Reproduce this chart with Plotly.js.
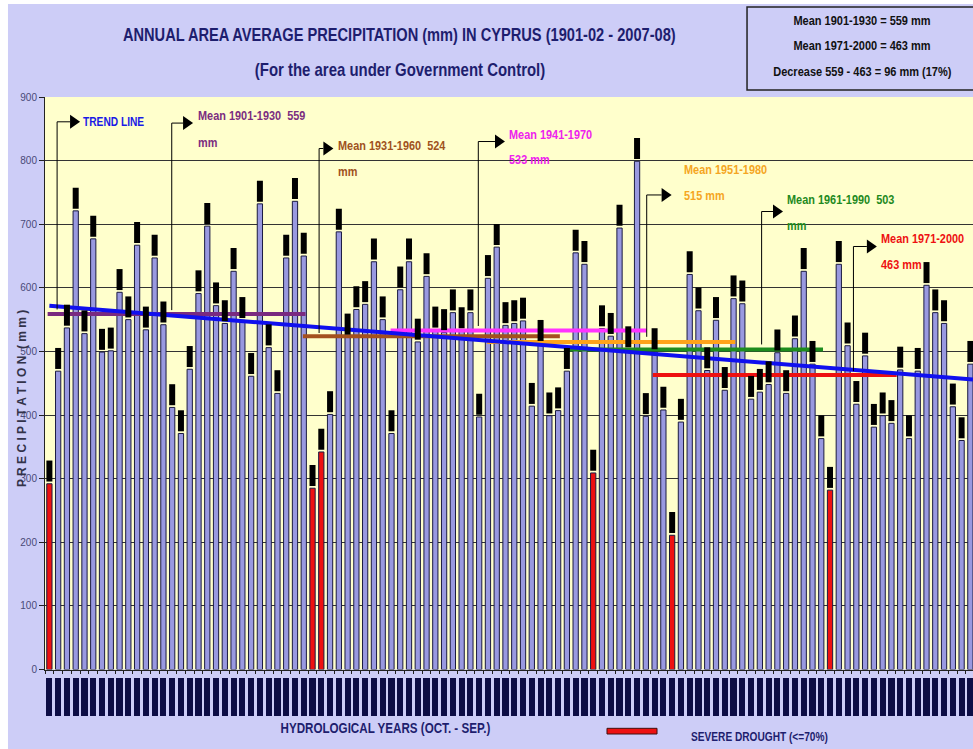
<!DOCTYPE html>
<html><head><meta charset="utf-8">
<script src="https://cdn.plot.ly/plotly-3.0.1.min.js"></script>
<style>html,body{margin:0;padding:0;background:#cdcdf7;}#chart{width:973px;height:749px;}</style>
</head><body><div id="chart"></div>
<script>
// ---- data ----
const precipitation = [
 292,469,537,721,528,677,499,501,593,550,
 667,534,647,542,412,371,472,591,697,572,
 544,626,549,461,732,506,434,647,736,650,
 285,342,401,688,523,566,574,641,550,371,
 597,641,515,618,534,530,561,533,561,397,
 615,664,541,544,548,414,513,399,407,469,
 655,637,309,536,524,694,503,799,398,500,
 408,211,389,621,564,470,549,439,583,575,
 425,436,448,498,434,520,626,480,363,282,
 637,509,417,493,381,399,387,471,363,469,
 604,561,544,413,360,480];
const droughtYears = ["1901-02","1931-32","1932-33","1963-64","1972-73","1990-91"];
const firstYear = 1901;
const years = precipitation.map((_, i) => {
  const y = firstYear + i; return y + "-" + String((y + 1) % 100).padStart(2, "0");
});
const meanLabels = ["Mean 1901-1930  559", "Mean 1931-1960  524", "Mean 1941-1970", "Mean 1951-1980", "Mean 1961-1990  503", "Mean 1971-2000"];
const meanSecond = ["mm", "mm", "533 mm", "515 mm", "mm", "463 mm"];
const meanValues = [559, 524, 533, 515, 503, 463];
const trendEnds = [572, 456];
const boxLines = ["Mean 1901-1930 = 559 mm", "Mean 1971-2000 = 463 mm", "Decrease 559 - 463 = 96 mm (17%)"];

// ---- styling / placement ----
const FONT = "Liberation Sans Narrow, Arial Narrow, Liberation Sans, sans-serif";
const meanColors = ["#7a2a80", "#a4501e", "#ff33ff", "#ffa31a", "#1e8c1e", "#ee1111"];
const meanTextColors = ["#7b2d80", "#a0521d", "#ee22ee", "#f5a623", "#1e8a1e", "#ee1111"];
const meanSpan = [[-0.2, 29.2], [28.9, 58.2], [38.9, 68.1], [49.9, 78.2], [58.8, 88.2], [68.8, 96.6]];
// pointer: [xStem, yLow, yTop, xHead, xText, yLine1, yLine2]
const pointers = [
  [13.95, 565, 859, 15.24, 16.84, 871, 828],
  [30.75, 529, 819, 31.24, 32.8, 823, 783],
  [48.9, 540, 830, 50.8, 52.3, 841, 801],
  [68.1, 523, 746, 69.8, 72.2, 786, 745],
  [81.2, 511, 720, 82.5, 83.96, 739, 698],
  [91.67, 469, 665, 93.2, 94.7, 677, 636]
];
const trendPointer = [0.88, 566, 861, 2.36, 3.73];

const idx = precipitation.map((_, i) => i);
const barColors = years.map(y => droughtYears.includes(y) ? "#ee1111" : "#9999e0");

const traces = [];
traces.push({type: "bar", x: idx, y: precipitation, width: 0.6, text: years, hoverinfo: "text+y", textposition: "none",
  marker: {color: barColors, line: {color: "#1a1a40", width: 1}}, xaxis: "x", yaxis: "y"});
meanValues.forEach((v, k) => {
  traces.push({type: "scatter", mode: "lines", x: meanSpan[k], y: [v, v], hoverinfo: "skip",
    line: {color: meanColors[k], width: 4}, xaxis: "x", yaxis: "y"});
});
traces.push({type: "scatter", mode: "lines", x: [idx[0], idx[idx.length - 1] + 0.3], y: trendEnds,
  line: {color: "#1010ee", width: 4}, hoverinfo: "skip", xaxis: "x", yaxis: "y"});
traces.push({type: "scatter", mode: "markers", x: idx, y: precipitation.map(v => v + 20), hoverinfo: "skip",
  marker: {symbol: "line-ns", size: 15, color: "#000", line: {color: "#000", width: 6}}, xaxis: "x", yaxis: "y"});
traces.push({type: "bar", x: idx, y: idx.map(() => 1), width: 0.7, hoverinfo: "skip",
  marker: {color: "#0d0d45", line: {width: 0}}, xaxis: "x2", yaxis: "y2"});

const shapes = [];
shapes.push({type: "rect", xref: "x domain", yref: "y domain", x0: 0, x1: 1, y0: 0, y1: 1,
  fillcolor: "#ffffcc", line: {width: 0}, layer: "below"});
const dx = 1 / 8.771, dy = 1 / 0.6356;
function pointer(p) {
  const [xs, yl, yt, xh] = p;
  shapes.push({type: "path", xref: "x", yref: "y", layer: "above",
    path: `M${xs},${yl} L${xs},${yt} L${xh},${yt}`, line: {color: "#000", width: 1}});
  shapes.push({type: "path", xref: "x", yref: "y", layer: "above",
    path: `M${xh},${yt + 7 * dy} L${xh + 10 * dx},${yt} L${xh},${yt - 7 * dy} Z`,
    fillcolor: "#000", line: {color: "#000", width: 0}});
}
pointers.forEach(pointer);
pointer(trendPointer);
shapes.push({type: "rect", xref: "paper", yref: "paper", x0: 0.7565, x1: 1.01, y0: 1.0113, y1: 1.1454,
  fillcolor: "rgba(0,0,0,0)", line: {color: "#222", width: 1.5}});
shapes.push({type: "rect", xref: "paper", yref: "paper", x0: 0.6056, x1: 0.6595, y0: -0.0291, y1: -0.0199,
  fillcolor: "#ee1111", line: {color: "#401010", width: 1}});
shapes.push({type: "rect", xref: "paper", yref: "paper", x0: -0.0485, x1: -0.0399, y0: -0.06, y1: 1.16,
  fillcolor: "#ffffff", line: {width: 0}, layer: "below"});
shapes.push({type: "rect", xref: "paper", yref: "paper", x0: -0.06, x1: 1.01, y0: 1.1502, y1: 1.16,
  fillcolor: "#ffffff", line: {width: 0}, layer: "below"});

const ann = [];
const squeeze = []; // horizontal condensing factor per annotation (narrow font look)
const f = (size, color) => ({family: FONT, size: size, color: color, weight: "bold"});
function add(a, k) { ann.push(Object.assign({borderpad: 0}, a)); squeeze.push(k); }
pointers.forEach((p, k) => {
  add({xref: "x", yref: "y", x: p[4], y: p[5], text: meanLabels[k], showarrow: false,
    xanchor: "left", yanchor: "middle", font: f(13, meanTextColors[k])}, 0.84);
  add({xref: "x", yref: "y", x: p[4], y: p[6], text: meanSecond[k], showarrow: false,
    xanchor: "left", yanchor: "middle", font: f(13, meanTextColors[k])}, 0.84);
});
add({xref: "x", yref: "y", x: trendPointer[4], y: trendPointer[2], text: "TREND LINE", showarrow: false,
  xanchor: "left", yanchor: "middle", font: f(12, "#1a1ae6")}, 0.85);
add({xref: "paper", yref: "paper", x: 0.3825, y: 1.1002, text: "ANNUAL AREA AVERAGE PRECIPITATION (mm) IN CYPRUS (1901-02 - 2007-08)",
  showarrow: false, xanchor: "center", yanchor: "middle", font: f(19, "#1e1e6e")}, 0.77);
add({xref: "paper", yref: "paper", x: 0.3825, y: 1.0436, text: "(For the area under Government Control)",
  showarrow: false, xanchor: "center", yanchor: "middle", font: f(18, "#1e1e6e")}, 0.83);
const boxY = [1.1228, 1.0816, 1.0404];
boxLines.forEach((t, k) => add({xref: "paper", yref: "paper", x: 0.8804, y: boxY[k], text: t,
  showarrow: false, xanchor: "center", yanchor: "middle", font: f(12.5, "#111")}, 0.88));
add({xref: "paper", yref: "paper", x: -0.0248, y: 0.5137, text: "P R E C I P I T A T I O N  ( m m )",
  textangle: -90, showarrow: false, xanchor: "center", yanchor: "middle", font: f(12, "#33334a")}, 1);
add({xref: "paper", yref: "paper", x: 0.3664, y: -0.0194, text: "HYDROLOGICAL YEARS (OCT. - SEP.)",
  showarrow: false, xanchor: "center", yanchor: "middle", font: f(14, "#1e1e6e")}, 0.83);
add({xref: "paper", yref: "paper", x: 0.695, y: -0.0334, text: "SEVERE DROUGHT (<=70%)",
  showarrow: false, xanchor: "left", yanchor: "middle", font: f(13, "#1e1e6e")}, 0.78);

const layout = {
  width: 973, height: 749, margin: {l: 45, r: 0, t: 97, b: 33},
  paper_bgcolor: "#cdcdf7", plot_bgcolor: "rgba(0,0,0,0)", showlegend: false, bargap: 0,
  xaxis: {domain: [0, 1], range: [-0.5, 105.3], anchor: "y", showgrid: false, zeroline: false,
    showline: true, linecolor: "#222", linewidth: 1, ticks: "outside", ticklen: 3, tickcolor: "#222",
    tick0: -0.5, dtick: 1, showticklabels: false},
  yaxis: {domain: [0.0751, 1], range: [0, 900], dtick: 100, anchor: "x", showgrid: true, gridcolor: "#333",
    gridwidth: 1, zeroline: false, showline: true, linecolor: "#222", ticks: "outside", ticklen: 5,
    tickcolor: "#222", tickfont: {family: FONT, size: 10, color: "#4a4a78"}},
  xaxis2: {domain: [0, 1], range: [-0.5, 105.3], anchor: "y2", matches: "x", visible: false},
  yaxis2: {domain: [0, 0.0614], range: [0, 1], anchor: "x2", visible: false},
  shapes: shapes, annotations: ann
};
Plotly.newPlot("chart", traces, layout, {displayModeBar: false, staticPlot: true}).then(() => {
  // condense the glyphs horizontally to imitate the narrow bold face of the original
  document.querySelectorAll("#chart g.annotation").forEach(g => {
    const i = +g.getAttribute("data-index");
    const k = squeeze[i];
    const t = g.querySelector("text.annotation-text");
    if (!t || !k || k === 1) return;
    const w = t.getComputedTextLength();
    const x = parseFloat(t.getAttribute("x")) || 0;
    const cx = ann[i].xanchor === "left" ? x - w / 2 : x;
    t.setAttribute("transform", `translate(${cx},0) scale(${k},1) translate(${-cx},0)`);
    const r = g.querySelector("rect.bg");
    if (r) {
      const rw = parseFloat(r.getAttribute("width")) || 0;
      const rx = parseFloat(r.getAttribute("x")) || 0;
      const lost = w * (1 - k);
      r.setAttribute("width", Math.max(0, rw - lost));
      if (ann[i].xanchor !== "left") r.setAttribute("x", rx + lost / 2);
    }
  });
});
</script></body></html>
